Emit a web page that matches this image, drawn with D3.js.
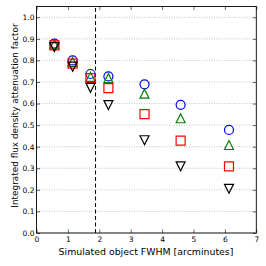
<!DOCTYPE html>
<html>
<head>
<meta charset="utf-8">
<script src="https://cdn.jsdelivr.net/npm/d3@7"></script>
<style>
  body { margin: 0; background: #fff; }
  svg text { font-family: "DejaVu Sans", sans-serif; }
</style>
</head>
<body>
<script>
let w = 266;
let h = 266;
let margin = {left: 36.5, right: 9.7, top: 6.5, bottom: 33};

// data
let fwhm = [0.57, 1.15, 1.72, 2.29, 3.44, 4.59, 6.13];
let circleVals = [0.878, 0.800, 0.737, 0.726, 0.689, 0.594, 0.478];
let triUpVals = [0.875, 0.793, 0.724, 0.718, 0.646, 0.532, 0.408];
let squareVals = [0.870, 0.785, 0.718, 0.672, 0.551, 0.428, 0.309];
let triDownVals = [0.862, 0.771, 0.673, 0.593, 0.430, 0.309, 0.205];
let dashX = 1.88;
let xTicks = [0, 1, 2, 3, 4, 5, 6, 7];
let yTicks = [0.0, 0.1, 0.2, 0.3, 0.4, 0.5, 0.6, 0.7, 0.8, 0.9, 1.0];

let svg = d3.select("body")
  .append("svg")
  .attr("width", w)
  .attr("height", h);

let xScale = d3.scaleLinear()
  .domain([0, 7])
  .range([margin.left, w - margin.right]);
let yScale = d3.scaleLinear()
  .domain([0, 1.05])
  .range([h - margin.bottom, margin.top]);

// horizontal dotted grid
svg.append("g")
  .selectAll("line")
  .data(yTicks)
  .enter()
  .append("line")
  .attr("x1", xScale(0))
  .attr("x2", xScale(7))
  .attr("y1", d => yScale(d))
  .attr("y2", d => yScale(d))
  .attr("stroke", "#999")
  .attr("stroke-width", 0.6)
  .attr("stroke-dasharray", "1,1.5");

// dashed vertical line
svg.append("line")
  .attr("x1", xScale(dashX))
  .attr("x2", xScale(dashX))
  .attr("y1", yScale(0))
  .attr("y2", yScale(1.05))
  .attr("stroke", "#000")
  .attr("stroke-width", 1)
  .attr("stroke-dasharray", "4,2.5");

let series = [
  {vals: circleVals, shape: "circle", color: "#0000ff"},
  {vals: triUpVals, shape: "up", color: "#008000"},
  {vals: squareVals, shape: "square", color: "#ff0000"},
  {vals: triDownVals, shape: "down", color: "#000000"}
];

let s = 4.5;
function markerPath(shape) {
  if (shape == "up") return `M0,${-s}L${s},${s}L${-s},${s}Z`;
  if (shape == "down") return `M0,${s}L${s},${-s}L${-s},${-s}Z`;
  if (shape == "square") return `M${-s},${-s}H${s}V${s}H${-s}Z`;
  return d3.symbol().type(d3.symbolCircle).size(Math.PI * s * s)();
}

series.forEach(ser => {
  svg.append("g")
    .selectAll("path")
    .data(ser.vals)
    .enter()
    .append("path")
    .attr("d", markerPath(ser.shape))
    .attr("transform", (d, i) => "translate(" + xScale(fwhm[i]) + "," + yScale(d) + ")")
    .attr("fill", "none")
    .attr("stroke", ser.color)
    .attr("stroke-width", 1.2);
});

// axes, ticks pointing inward
let xAxis = d3.axisBottom(xScale).tickValues(xTicks).tickSize(-3.5).tickPadding(4).tickFormat(d3.format("d"));
let xAxisTop = d3.axisTop(xScale).tickValues(xTicks).tickSize(-3.5).tickFormat("");
let yAxis = d3.axisLeft(yScale).tickValues(yTicks).tickSize(-3.5).tickPadding(2).tickFormat(d3.format(".1f"));
let yAxisRight = d3.axisRight(yScale).tickValues(yTicks).tickSize(-3.5).tickFormat("");

function styleAxis(g) {
  g.select(".domain").remove();
  g.selectAll("line").attr("stroke", "#000").attr("stroke-width", 0.6);
  g.selectAll("text").style("font-size", "7.5px").attr("fill", "#000");
}

svg.append("g")
  .attr("transform", "translate(0," + (h - margin.bottom) + ")")
  .call(xAxis).call(styleAxis);
svg.append("g")
  .attr("transform", "translate(0," + margin.top + ")")
  .call(xAxisTop).call(styleAxis);
svg.append("g")
  .attr("transform", "translate(" + margin.left + ",0)")
  .call(yAxis).call(styleAxis);
svg.append("g")
  .attr("transform", "translate(" + (w - margin.right) + ",0)")
  .call(yAxisRight).call(styleAxis);

// frame
svg.append("rect")
  .attr("x", margin.left)
  .attr("y", margin.top)
  .attr("width", w - margin.left - margin.right)
  .attr("height", h - margin.top - margin.bottom)
  .attr("fill", "none")
  .attr("stroke", "#000")
  .attr("stroke-width", 0.9);

svg.append("text")
  .attr("x", 146)
  .attr("y", 254.5)
  .attr("text-anchor", "middle")
  .style("font-size", "9.4px")
  .text("Simulated object FWHM [arcminutes]");

svg.append("text")
  .attr("transform", "translate(18,115.5) rotate(-90)")
  .attr("text-anchor", "middle")
  .style("font-size", "8.9px")
  .text("Integrated flux density attenuation factor");
</script>
</body>
</html>
